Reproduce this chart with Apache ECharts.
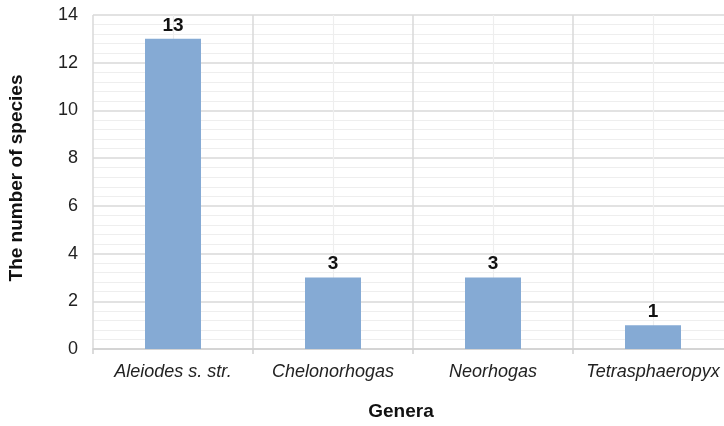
<!DOCTYPE html>
<html>
<head>
<meta charset="utf-8">
<script src="https://cdn.jsdelivr.net/npm/echarts@6/dist/echarts.min.js"></script>
<style>
  html, body { margin: 0; padding: 0; background: #fff; overflow: hidden; }
  /* canvas is a little wider than the window so the plot runs off the right edge */
  #chart { width: 740px; height: 426px; }
</style>
</head>
<body>
<div id="chart"></div>
<script>
// Species counts per genus
const genera = ['Aleiodes s. str.', 'Chelonorhogas', 'Neorhogas', 'Tetrasphaeropyx'];
const speciesCounts = [13, 3, 3, 1];
const yTicks = [0, 2, 4, 6, 8, 10, 12, 14];

const chart = echarts.init(document.getElementById('chart'), null, { renderer: 'canvas' });

const font = '"Liberation Sans", Arial, sans-serif';

chart.setOption({
  animation: false,
  backgroundColor: '#ffffff',
  grid: { left: 93, top: 15, right: 7, bottom: 77, containLabel: false },
  xAxis: [
    {
      type: 'category',
      data: genera,
      boundaryGap: true,
      axisLine: { show: true, lineStyle: { color: '#d0d0d0', width: 1.5 } },
      axisTick: { show: true, alignWithLabel: false, length: 5, lineStyle: { color: '#d0d0d0', width: 1.5 } },
      axisLabel: {
        interval: 0,
        fontFamily: font, fontSize: 18, fontStyle: 'italic', color: '#222', margin: 14
      },
      splitLine: { show: false }
    },
    {
      // grid lines: category boundaries and category centres
      type: 'value',
      min: 0, max: 4, interval: 1,
      show: true,
      position: 'bottom',
      axisLine: { show: false },
      axisTick: { show: false },
      axisLabel: { show: false },
      splitLine: { show: true, lineStyle: { color: '#d9d9d9', width: 1.5 } },
      minorTick: { show: false, splitNumber: 2 },
      minorSplitLine: { show: true, lineStyle: { color: '#eeeeee', width: 1.2 } }
    }
  ],
  yAxis: {
    type: 'value',
    min: yTicks[0],
    max: yTicks[yTicks.length - 1],
    interval: 2,
    axisLine: { show: false },
    axisTick: { show: false },
    axisLabel: { fontFamily: font, fontSize: 18, color: '#222', margin: 15 },
    splitLine: { show: true, lineStyle: { color: '#d9d9d9', width: 1.5 } },
    minorTick: { show: false, splitNumber: 5 },
    minorSplitLine: { show: true, lineStyle: { color: '#eeeeee', width: 1.2 } }
  },
  series: [{
    type: 'bar',
    xAxisIndex: 0,
    data: speciesCounts,
    barWidth: '35%',
    itemStyle: { color: '#85aad4' },
    label: {
      show: true,
      position: 'top',
      distance: 4,
      fontFamily: font,
      fontSize: 19,
      fontWeight: 'bold',
      color: '#111'
    },
    z: 5
  }],
  graphic: [
    {
      type: 'text',
      x: 401, y: 412,
      style: {
        text: 'Genera', font: 'bold 19px ' + font, fill: '#111',
        align: 'center', verticalAlign: 'middle'
      }
    },
    {
      type: 'text',
      x: 17, y: 178,
      rotation: Math.PI / 2,
      style: {
        text: 'The number of species',
        font: 'bold 19px ' + font,
        fill: '#111',
        align: 'center',
        verticalAlign: 'middle'
      }
    }
  ]
});
</script>
</body>
</html>
